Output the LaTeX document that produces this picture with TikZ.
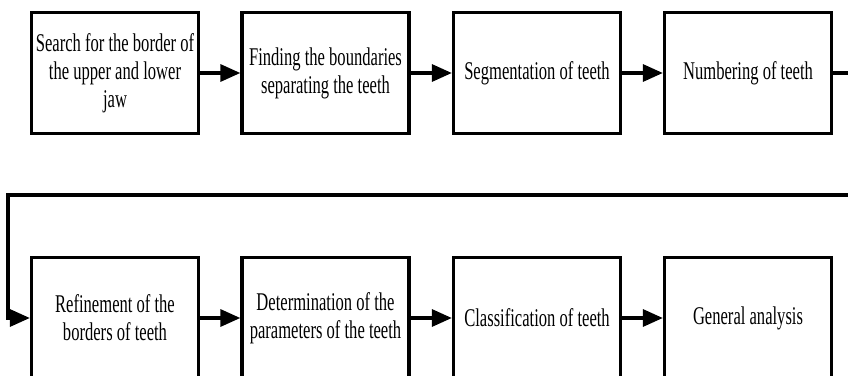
\documentclass[tikz,border=0pt]{standalone}
\usepackage{fontspec}
\setmainfont[FakeStretch=0.65]{Liberation Serif}
\usetikzlibrary{arrows.meta}
\begin{document}
\begin{tikzpicture}[x=1pt,y=-1pt,
  stepbox/.style={draw, line width=3.3pt, minimum width=167pt, minimum height=121pt,
    inner sep=0pt, align=center, font=\fontsize{25.5}{28}\selectfont},
  arr/.style={line width=3.3pt, -{Triangle[length=20pt,width=17pt]}},
  plain/.style={line width=3.3pt}]
\useasboundingbox (0,0) rectangle (848,375);
\clip (0,0) rectangle (848,375);
\fill[white] (0,0) rectangle (848,375);
\node[stepbox] (n1) at (115,73) {Search for the border of\\the upper and lower\\jaw};
\node[stepbox] (n2) at (325.5,73) {Finding the boundaries\\separating the teeth};
\node[stepbox] (n3) at (537,73) {Segmentation of teeth};
\node[stepbox] (n4) at (748,73) {Numbering of teeth};
\node[stepbox] (n5) at (115,318) {Refinement of the\\borders of teeth};
\node[stepbox] (n6) at (325.5,318) {Determination of the\\parameters of the teeth};
\node[stepbox] (n7) at (537,318) {Classification of teeth};
\node[stepbox] (n8) at (748,318) {General analysis};
\coordinate (c1) at (875,195);
\coordinate (c2) at (8,195);
\draw[arr] (n1) -- (n2);
\draw[arr] (n2) -- (n3);
\draw[arr] (n3) -- (n4);
\draw[arr] (n4.east) -| (c1) -- (c2) |- (n5.west);
\draw[arr] (n5) -- (n6);
\draw[arr] (n6) -- (n7);
\draw[arr] (n7) -- (n8);
\end{tikzpicture}
\end{document}
